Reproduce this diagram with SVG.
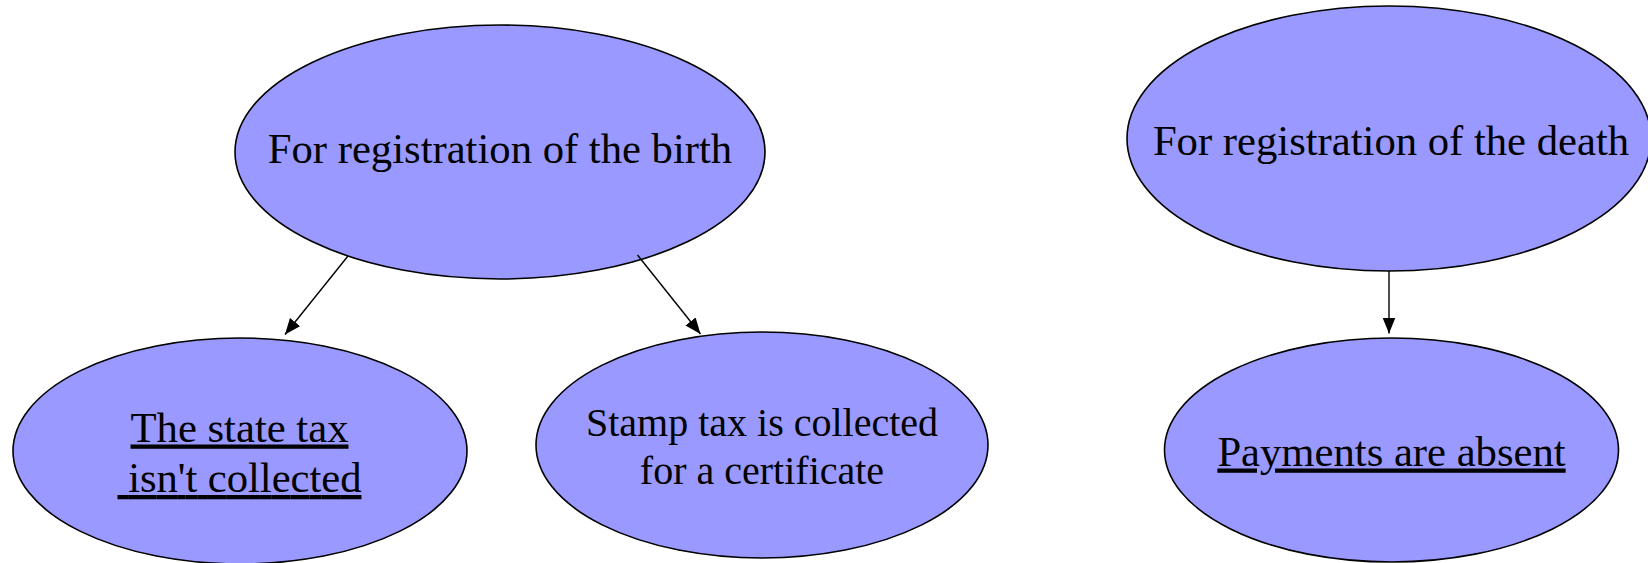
<svg xmlns="http://www.w3.org/2000/svg" width="1648" height="563" viewBox="0 0 1648 563">
  <style>
    .node ellipse { fill: #9999FF; stroke: #000000; stroke-width: 1.6; }
    .lbl { font-family: "Liberation Serif", "Times New Roman", serif; font-size: 42.67px; fill: #000000; text-anchor: middle; white-space: pre; }
    .sm { font-size: 40px; }
    .u { text-decoration: underline; }
    .edge { stroke: #000000; stroke-width: 1.4; fill: none; marker-end: url(#arr); }
  </style>
  <defs>
    <marker id="arr" markerUnits="userSpaceOnUse" markerWidth="17" markerHeight="13" refX="16" refY="6.5" orient="auto">
      <path d="M0,0 L16,6.5 L0,13 Z" fill="#000000"/>
    </marker>
  </defs>
  <rect width="1648" height="563" fill="#FFFFFF"/>
  <g id="node-birth" class="node">
    <ellipse cx="500" cy="152" rx="265" ry="127"/>
    <text class="lbl" x="500" y="163">For registration of the birth</text>
  </g>
  <g id="node-death" class="node">
    <ellipse cx="1389" cy="138.5" rx="262" ry="132.5"/>
    <text class="lbl" x="1391" y="154.5">For registration of the death</text>
  </g>
  <g id="node-statetax" class="node">
    <ellipse cx="240" cy="451" rx="227" ry="113"/>
    <text class="lbl u" x="239.5" y="441.5">The state tax</text>
    <text class="lbl u" x="239.5" y="492" textLength="244" lengthAdjust="spacing" xml:space="preserve"> isn't collected</text>
  </g>
  <g id="node-stamp" class="node">
    <ellipse cx="762" cy="445" rx="226" ry="113"/>
    <text class="lbl sm" x="762" y="435.5">Stamp tax is collected</text>
    <text class="lbl sm" x="762" y="483.5">for a certificate</text>
  </g>
  <g id="node-payments" class="node">
    <ellipse cx="1391.5" cy="450" rx="227" ry="112"/>
    <text class="lbl u" x="1391.5" y="465.5">Payments are absent</text>
  </g>
  <g id="connectors">
    <line class="edge" x1="348" y1="256" x2="285" y2="334.5"/>
    <line class="edge" x1="637.5" y1="255" x2="700.5" y2="334"/>
    <line class="edge" x1="1389" y1="271" x2="1389" y2="333.5"/>
  </g>
</svg>
